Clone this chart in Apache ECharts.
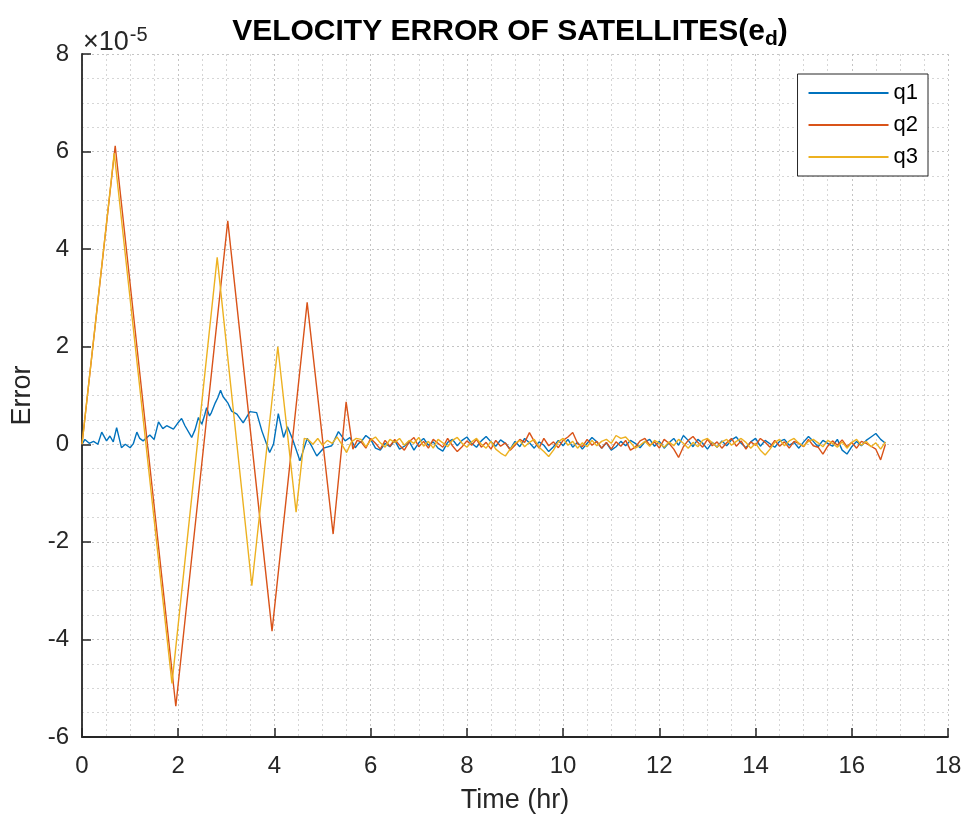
<!DOCTYPE html>
<html>
<head>
<meta charset="utf-8">
<title>Velocity error of satellites</title>
<script src="https://cdn.jsdelivr.net/npm/echarts@6/dist/echarts.min.js"></script>
<style>
  html, body { margin: 0; padding: 0; background: #fff; }
  #chart { width: 965px; height: 820px; }
</style>
</head>
<body>
<div id="chart"></div>
<script>
// values are in units of 1e-5 (axis shows "x10^-5")

// q1 start (0 - 5.85 hr)
const q1HeadT = [0, 0.06, 0.15, 0.24, 0.33, 0.41, 0.51, 0.58, 0.65, 0.72, 0.82, 0.9, 1.0, 1.07, 1.14, 1.2, 1.27, 1.41, 1.5, 1.59, 1.68, 1.76, 1.9, 1.98, 2.07, 2.14, 2.28, 2.35, 2.42, 2.49, 2.55, 2.59, 2.65, 2.69, 2.77, 2.82, 2.88, 2.93, 2.97, 3.03, 3.11, 3.22, 3.35, 3.49, 3.63, 3.74, 3.9, 3.98, 4.08, 4.19, 4.27, 4.38, 4.53, 4.68, 4.78, 4.88, 5.02, 5.19, 5.33, 5.47, 5.57, 5.68, 5.75];
const q1HeadV = [0, 0.10, 0.02, 0.06, 0.0, 0.25, 0.07, 0.17, 0.05, 0.34, -0.07, 0.0, -0.07, 0.02, 0.25, 0.12, 0.07, 0.19, 0.10, 0.46, 0.32, 0.38, 0.31, 0.42, 0.53, 0.38, 0.14, 0.30, 0.55, 0.41, 0.60, 0.75, 0.58, 0.65, 0.85, 0.95, 1.11, 0.98, 1.02, 0.85, 0.68, 0.62, 0.44, 0.67, 0.65, 0.27, -0.17, 0.0, 0.63, 0.14, 0.36, 0.10, -0.34, 0.12, -0.05, -0.24, -0.08, -0.03, 0.26, 0.07, 0.14, -0.07, 0.02];

// q2 start: large triangular swings
const q2HeadT = [0, 0.69, 1.95, 3.03, 3.95, 4.68, 5.22, 5.49, 5.63, 5.72];
const q2HeadV = [0, 6.12, -5.37, 4.58, -3.83, 2.91, -1.84, 0.87, -0.10, 0.08];

// q3 start: large triangular swings
const q3HeadT = [0, 0.67, 1.87, 2.81, 3.53, 4.07, 4.45, 4.62, 4.7, 4.8, 4.9, 5.0, 5.1, 5.2, 5.3, 5.4, 5.5, 5.6, 5.7];
const q3HeadV = [0, 5.97, -4.90, 3.83, -2.90, 2.00, -1.39, 0.12, 0.10, 0.0, 0.12, -0.02, 0.08, 0.02, 0.15, 0.0, -0.17, 0.05, 0.12];

// steady-state part (5.8 - 16.7 hr)
const tailT = [5.8, 5.9, 6.0, 6.1, 6.2, 6.3, 6.4, 6.5, 6.6, 6.7,
  6.8, 6.9, 7.0, 7.1, 7.2, 7.3, 7.4, 7.5, 7.6, 7.7,
  7.8, 7.9, 8.0, 8.1, 8.2, 8.3, 8.4, 8.5, 8.6, 8.7,
  8.8, 8.9, 9.0, 9.1, 9.2, 9.3, 9.4, 9.5, 9.6, 9.7,
  9.8, 9.9, 10.0, 10.1, 10.2, 10.3, 10.4, 10.5, 10.6, 10.7,
  10.8, 10.9, 11.0, 11.1, 11.2, 11.3, 11.4, 11.5, 11.6, 11.7,
  11.8, 11.9, 12.0, 12.1, 12.2, 12.3, 12.4, 12.5, 12.6, 12.7,
  12.8, 12.9, 13.0, 13.1, 13.2, 13.3, 13.4, 13.5, 13.6, 13.7,
  13.8, 13.9, 14.0, 14.1, 14.2, 14.3, 14.4, 14.5, 14.6, 14.7,
  14.8, 14.9, 15.0, 15.1, 15.2, 15.3, 15.4, 15.5, 15.6, 15.7,
  15.8, 15.9, 16.0, 16.1, 16.2, 16.3, 16.4, 16.5, 16.6, 16.7];
const q1TailV = [0.05, 0.18, 0.10, -0.08, -0.12, 0.02, -0.05, 0.08, -0.10, -0.04,
  0.06, -0.12, 0.03, 0.12, -0.02, 0.05, -0.08, -0.14, 0.04, 0.10,
  -0.03, 0.08, 0.15, 0.02, -0.06, 0.07, 0.16, 0.05, -0.04, 0.09,
  0.02, -0.10, 0.06, -0.05, 0.12, 0.03, -0.08, 0.05, -0.02, -0.15,
  -0.05, 0.08, -0.03, 0.10, -0.06, 0.04, -0.10, 0.02, 0.14, 0.05,
  -0.08, 0.03, -0.12, -0.05, 0.06, -0.03, 0.08, 0.02, -0.07, 0.05,
  0.10, -0.04, 0.06, -0.08, 0.03, 0.12, -0.02, 0.18, 0.08, -0.05,
  0.10, 0.02, -0.10, 0.04, -0.06, 0.07, -0.03, 0.09, 0.15, 0.02,
  -0.07, 0.05, 0.12, -0.04, 0.08, 0.01, -0.06, 0.06, 0.10, -0.02,
  0.04, -0.08, 0.05, 0.16, 0.06, -0.05, 0.08, 0.02, -0.04, 0.10,
  -0.12, -0.20, -0.05, 0.06, -0.03, 0.08, 0.15, 0.22, 0.10, 0.02];
const q2TailV = [0.05, -0.08, 0.12, 0.02, -0.10, 0.08, -0.04, 0.10, -0.02, -0.12,
  0.05, 0.14, -0.05, 0.06, -0.08, 0.10, 0.02, -0.06, 0.12, -0.03,
  -0.15, -0.05, 0.07, -0.02, 0.10, -0.06, 0.04, -0.10, 0.08, -0.04,
  0.03, -0.12, -0.02, 0.10, 0.04, 0.24, 0.06, -0.08, 0.12, -0.03,
  0.05, -0.07, 0.08, 0.15, 0.24, 0.02, -0.05, 0.10, -0.02, 0.06,
  -0.08, 0.04, -0.10, 0.05, -0.04, 0.08, -0.12, -0.06, 0.07, 0.12,
  -0.02, 0.05, -0.08, 0.10, 0.02, -0.10, -0.27, -0.05, 0.08, 0.16,
  0.04, -0.06, 0.10, -0.03, 0.05, -0.08, 0.03, 0.12, -0.04, 0.07,
  -0.10, 0.05, -0.02, 0.12, 0.04, -0.06, 0.08, -0.04, 0.05, -0.08,
  0.06, 0.02, -0.05, 0.10, -0.03, -0.06, -0.20, -0.04, 0.07, -0.02,
  0.09, -0.05, 0.04, -0.08, 0.06, 0.02, -0.04, -0.10, -0.32, 0.0];
const q3TailV = [0.10, -0.05, 0.08, 0.15, 0.03, -0.06, 0.10, 0.04, 0.12, -0.02,
  0.08, 0.02, 0.14, -0.04, 0.06, -0.08, 0.10, 0.03, -0.05, 0.08,
  0.14, 0.02, -0.06, 0.05, 0.12, 0.0, -0.08, 0.06, -0.10, -0.18,
  -0.24, -0.10, 0.02, 0.08, -0.05, 0.04, 0.10, -0.06, -0.15, -0.25,
  -0.12, 0.05, 0.12, -0.02, 0.06, -0.08, 0.03, -0.05, 0.08, -0.03,
  0.06, 0.10, 0.02, 0.18, 0.12, 0.15, 0.04, -0.08, -0.02, 0.06,
  -0.04, 0.08, 0.02, -0.06, 0.05, -0.03, 0.10, 0.02, -0.08, 0.04,
  -0.05, 0.08, 0.12, 0.03, -0.06, 0.05, 0.10, -0.02, 0.06, 0.12,
  0.04, -0.08, 0.02, -0.12, -0.22, -0.10, 0.04, 0.10, -0.03, 0.07,
  0.12, 0.02, -0.04, 0.06, 0.10, 0.03, -0.05, 0.08, 0.02, -0.06,
  0.05, -0.08, 0.04, 0.10, -0.02, 0.06, -0.05, 0.03, -0.10, 0.05];

const seriesNames = ["q1", "q2", "q3"];
const seriesColors = ["#0072BD", "#D95319", "#EDB120"];
const xTicks = { min: 0, max: 18, interval: 2 };
const yTicks = { min: -6, max: 8, interval: 2 };

function pairs(t, v) {
  return t.map((x, i) => [x, v[i]]);
}

const q1 = pairs(q1HeadT, q1HeadV).concat(pairs(tailT, q1TailV));
const q2 = pairs(q2HeadT, q2HeadV).concat(pairs(tailT, q2TailV));
const q3 = pairs(q3HeadT, q3HeadV).concat(pairs(tailT, q3TailV));
const allData = [q1, q2, q3];

const font = "'Liberation Sans', Arial, Helvetica, sans-serif";
const axisColor = "#262626";

const chart = echarts.init(document.getElementById("chart"));
chart.setOption({
  animation: false,
  backgroundColor: "#fff",
  textStyle: { fontFamily: font },
  title: {
    text: "VELOCITY ERROR OF SATELLITES(e{sub|d})",
    left: 505,
    top: 9,
    textAlign: "center",
    textStyle: {
      fontSize: 30,
      fontWeight: "bold",
      color: "#000",
      fontFamily: font,
      rich: {
        sub: { fontSize: 21, fontWeight: "bold", verticalAlign: "bottom", padding: [15, 0, 0, 0], fontFamily: font }
      }
    }
  },
  graphic: [
    {
      type: "text",
      left: 83,
      top: 25,
      style: {
        text: "×10{sup|-5}",
        font: "27px " + font,
        fill: axisColor,
        rich: {
          sup: { fontSize: 20, verticalAlign: "top", padding: [0, 0, 16, 1], fontFamily: font, fill: axisColor }
        }
      }
    }
  ],
  legend: {
    data: seriesNames,
    orient: "vertical",
    right: 37,
    top: 74,
    padding: [8, 10, 8, 10],
    itemWidth: 80,
    itemHeight: 14,
    itemGap: 10,
    backgroundColor: "#fff",
    borderColor: axisColor,
    borderWidth: 1,
    itemStyle: { opacity: 0 },
    textStyle: { fontSize: 22, color: "#000", fontFamily: font }
  },
  grid: { left: 82, right: 17, top: 54, bottom: 83 },
  xAxis: {
    type: "value",
    min: xTicks.min,
    max: xTicks.max,
    interval: xTicks.interval,
    name: "Time (hr)",
    nameLocation: "middle",
    nameGap: 50,
    nameTextStyle: { fontSize: 27, color: axisColor, fontFamily: font },
    axisLine: { show: true, onZero: false, lineStyle: { color: axisColor, width: 1.8 } },
    axisTick: { show: true, inside: true, length: 9, lineStyle: { color: axisColor, width: 1.5 } },
    axisLabel: { fontSize: 24, color: axisColor, margin: 17, fontFamily: font },
    splitLine: { show: true, lineStyle: { color: "#c4c4c4", type: [2, 3], width: 1 } },
    minorTick: { show: false, splitNumber: 4 },
    minorSplitLine: { show: true, lineStyle: { color: "#d6d6d6", type: [2, 3], width: 1 } }
  },
  yAxis: {
    type: "value",
    min: yTicks.min,
    max: yTicks.max,
    interval: yTicks.interval,
    name: "Error",
    nameLocation: "middle",
    nameGap: 46,
    nameTextStyle: { fontSize: 27, color: axisColor, fontFamily: font },
    axisLine: { show: true, onZero: false, lineStyle: { color: axisColor, width: 1.8 } },
    axisTick: { show: true, inside: true, length: 9, lineStyle: { color: axisColor, width: 1.5 } },
    axisLabel: { fontSize: 24, color: axisColor, margin: 13, fontFamily: font },
    splitLine: { show: true, lineStyle: { color: "#c4c4c4", type: [2, 3], width: 1 } },
    minorTick: { show: false, splitNumber: 4 },
    minorSplitLine: { show: true, lineStyle: { color: "#d6d6d6", type: [2, 3], width: 1 } }
  },
  series: seriesNames.map((name, i) => ({
    name: name,
    type: "line",
    data: allData[i],
    symbol: "none",
    color: seriesColors[i],
    lineStyle: { color: seriesColors[i], width: 1.4 },
    z: 2 + i
  }))
});
</script>
</body>
</html>
